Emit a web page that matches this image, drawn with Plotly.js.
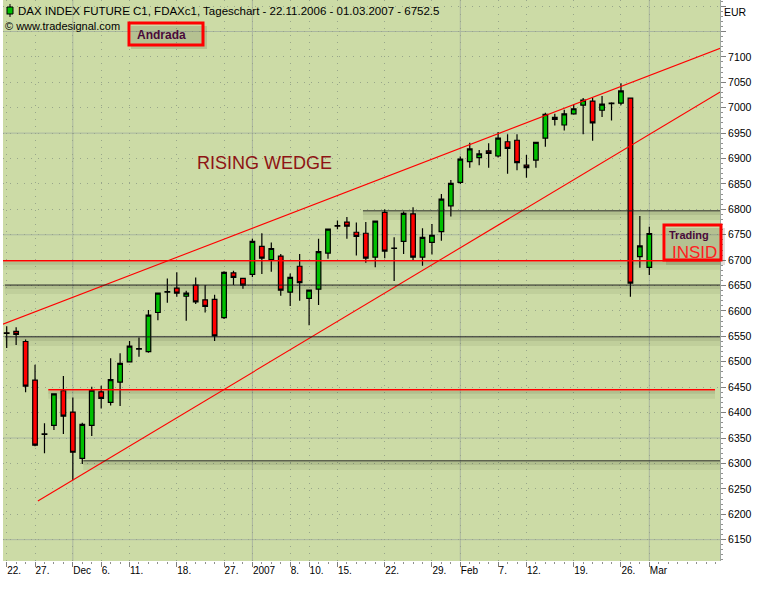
<!DOCTYPE html>
<html>
<head>
<meta charset="utf-8">
<script src="https://cdn.plot.ly/plotly-3.0.1.min.js"></script>
<style>html,body{margin:0;padding:0;background:#fff;}#chart{width:760px;height:598px;}</style>
</head>
<body>
<div id="chart"></div>
<script>
// ---------- DATA ----------
const dates = [
 '22.11.2006','23.11.2006','24.11.2006','27.11.2006','28.11.2006','29.11.2006','30.11.2006',
 '01.12.2006','04.12.2006','05.12.2006','06.12.2006','07.12.2006','08.12.2006','11.12.2006','12.12.2006',
 '13.12.2006','14.12.2006','15.12.2006','18.12.2006','19.12.2006','20.12.2006','21.12.2006','22.12.2006',
 '27.12.2006','28.12.2006','29.12.2006',
 '02.01.2007','03.01.2007','04.01.2007','05.01.2007','08.01.2007','09.01.2007','10.01.2007','11.01.2007',
 '12.01.2007','15.01.2007','16.01.2007','17.01.2007','18.01.2007','19.01.2007','22.01.2007','23.01.2007',
 '24.01.2007','25.01.2007','26.01.2007','29.01.2007','30.01.2007','31.01.2007',
 '01.02.2007','02.02.2007','05.02.2007','06.02.2007','07.02.2007','08.02.2007','09.02.2007','12.02.2007',
 '13.02.2007','14.02.2007','15.02.2007','16.02.2007','19.02.2007','20.02.2007','21.02.2007','22.02.2007',
 '23.02.2007','26.02.2007','27.02.2007','28.02.2007','01.03.2007'
];
const openP  = [6557,6560,6540,6464,6358,6375,6443,6401,6310,6375,6441,6420,6460,6500,6526,6520,6597,6637,6645,6629,
                6651,6622,6623,6587,6675,6664,6672,6727,6701,6708,6637,6688,6625,6643,6714,6768,6775,6755,6753,6706,
                6794,6723,6737,6791,6706,6735,6756,6807,6853,6894,6902,6915,6905,6933,6936,6887,6897,6940,6981,6966,
                6988,7005,7013,6995,7008,7009,7019,6707,6686];
const highP  = [6570,6568,6544,6494,6379,6438,6472,6430,6380,6451,6453,6507,6517,6541,6548,6602,6636,6664,6676,6640,
                6666,6651,6632,6678,6679,6665,6742,6753,6735,6712,6674,6712,6641,6742,6762,6778,6785,6774,6775,6778,
                6800,6745,6796,6804,6763,6771,6830,6858,6904,6931,6917,6930,6952,6948,6948,6907,6933,6990,6988,6996,
                7007,7019,7019,7023,7011,7048,7020,6787,6766];
const lowP   = [6527,6533,6440,6334,6320,6366,6358,6267,6299,6354,6408,6414,6413,6499,6510,6518,6582,6616,6628,6581,
                6614,6597,6541,6584,6651,6644,6667,6673,6677,6630,6610,6620,6572,6612,6703,6761,6742,6709,6695,6686,
                6704,6659,6712,6700,6689,6711,6738,6786,6850,6882,6887,6882,6902,6870,6877,6862,6882,6923,6965,6955,
                6986,6948,6935,6982,6975,7005,6628,6685,6671];
const closeP = [6556,6554,6452,6336,6357,6437,6393,6322,6377,6444,6428,6465,6497,6531,6525,6592,6635,6638,6635,6635,
                6618,6609,6551,6676,6666,6651,6737,6704,6723,6641,6666,6656,6641,6717,6761,6767,6767,6747,6704,6777,
                6718,6724,6792,6706,6745,6749,6820,6851,6899,6919,6909,6910,6940,6920,6892,6882,6932,6987,6977,6988,
                6998,7015,6970,7007,7009,7033,6655,6728,6752.5];

const tickDates = ['22.11.2006','27.11.2006','01.12.2006','06.12.2006','11.12.2006','18.12.2006','27.12.2006',
                   '02.01.2007','08.01.2007','10.01.2007','15.01.2007','22.01.2007','29.01.2007','01.02.2007',
                   '07.02.2007','12.02.2007','19.02.2007','26.02.2007','01.03.2007'];
const tickText  = ['22.','27.','Dec','6.','11.','18.','27.','2007','8.','10.','15.','22.','29.','Feb','7.','12.','19.','26.','Mar'];
const monthStarts = ['01.12.2006','02.01.2007','01.02.2007','01.03.2007'];

// horizontal support / resistance levels (price, first bar index, last bar index)
const redLevelPrice   = [6699, 6445];
const redLevelFrom    = [-1, 4.4];
const redLevelTo      = [76, 74.95];
const blackLevelPrice = [6651, 6549, 6305, 6797];
const blackLevelFrom  = [-0.2, -0.2, 8.1, 37.7];
const blackLevelTo    = [76, 76, 76, 76];

// wedge trend lines (bar index, price)
const upperTrendX = [-0.4, 75.5];
const upperTrendY = [6574, 7117];
const lowerTrendX = [3.3, 75.5];
const lowerTrendY = [6226, 7031];

const yTickVals = [6150,6200,6250,6300,6350,6400,6450,6500,6550,6600,6650,6700,6750,6800,6850,6900,6950,7000,7050,7100,7150,7200];
const yTickText = ['6150','6200','6250','6300','6350','6400','6450','6500','6550','6600','6650','6700','6750','6800','6850','6900','6950','7000','7050','7100','',''];
const solidGridPrices = [6150,6350,6550,6750,6950,7150];

// ---------- DRAW ----------
const idx = dates.map((d, i) => i);
const tickIdx = tickDates.map(d => dates.indexOf(d));
const monthIdx = monthStarts.map(d => dates.indexOf(d));

const PL = 3, PT = 0, PW = 717, PH = 561;
const fx = px => (px - PL) / PW;
const fy = py => 1 - (py - PT) / PH;

const FONT = 'Liberation Sans, Arial, sans-serif';

const traces = [
  {
    type: 'candlestick', x: idx, open: openP, high: highP, low: lowP, close: closeP,
    increasing: {line: {color: '#000000', width: 1.2}, fillcolor: '#00c000'},
    decreasing: {line: {color: '#000000', width: 1.2}, fillcolor: '#ff0000'},
    whiskerwidth: 0, hoverinfo: 'skip', showlegend: false
  },
  {type: 'scatter', mode: 'lines', x: upperTrendX, y: upperTrendY, line: {color: '#ff0000', width: 1.1}, hoverinfo: 'skip', showlegend: false},
  {type: 'scatter', mode: 'lines', x: lowerTrendX, y: lowerTrendY, line: {color: '#ff0000', width: 1.1}, hoverinfo: 'skip', showlegend: false}
];

const shapes = [];
// solid grid lines
solidGridPrices.forEach(p => shapes.push({type: 'line', xref: 'paper', yref: 'y', x0: 0, x1: 1, y0: p, y1: p,
  line: {color: '#aab6a0', width: 1}, layer: 'between'}));
monthIdx.forEach(i => shapes.push({type: 'line', xref: 'x', yref: 'paper', x0: i, x1: i, y0: 0, y1: 1,
  line: {color: '#aab6a0', width: 1}, layer: 'between'}));

function level(price, from, to, color, width) {
  shapes.push({type: 'rect', xref: 'x', yref: 'y', ysizemode: 'pixel', yanchor: price, y0: -1, y1: -4,
    x0: from, x1: to, fillcolor: 'rgba(40,50,20,0.16)', line: {width: 0}, layer: 'between'});
  shapes.push({type: 'rect', xref: 'x', yref: 'y', ysizemode: 'pixel', yanchor: price, y0: -4, y1: -9,
    x0: from, x1: to, fillcolor: 'rgba(40,50,20,0.07)', line: {width: 0}, layer: 'between'});
  shapes.push({type: 'line', xref: 'x', yref: 'y', x0: from, x1: to, y0: price, y1: price,
    line: {color: color, width: width}, layer: 'above'});
}
blackLevelPrice.forEach((p, k) => level(p, blackLevelFrom[k], blackLevelTo[k], '#1a1a1a', 1));
redLevelPrice.forEach((p, k) => level(p, redLevelFrom[k], redLevelTo[k], '#ff0000', 1.6));

function pxRect(x0, y0, x1, y1, opts) {
  shapes.push(Object.assign({type: 'rect', xref: 'paper', yref: 'paper', x0: fx(x0), x1: fx(x1), y0: fy(y1), y1: fy(y0), layer: 'above'}, opts));
}
// Andrada box
pxRect(131, 26, 207, 49, {fillcolor: 'rgba(60,60,40,0.16)', line: {width: 0}});
pxRect(129, 23, 203, 45, {fillcolor: 'rgba(0,0,0,0)', line: {color: '#ff0000', width: 3}});
// Trading INSIDE box
pxRect(666, 228, 725, 265, {fillcolor: 'rgba(60,60,40,0.16)', line: {width: 0}});
pxRect(664, 225, 721, 260, {fillcolor: 'rgba(0,0,0,0)', line: {color: '#ff0000', width: 3}});
// header candle icon
shapes.push({type: 'line', xref: 'paper', yref: 'paper', x0: fx(10), x1: fx(10), y0: fy(17), y1: fy(4), line: {color: '#000', width: 1}, layer: 'above'});
pxRect(7, 7, 13, 14, {fillcolor: '#00c000', line: {color: '#000', width: 1}});

const ann = [];
function txt(text, px, py, size, color, family) {
  ann.push({text: text, xref: 'paper', yref: 'paper', x: fx(px), y: fy(py), xanchor: 'left', yanchor: 'middle',
    showarrow: false, font: {family: family || FONT, size: size, color: color}});
}
txt('DAX INDEX FUTURE C1, FDAXc1, Tageschart - 22.11.2006 - 01.03.2007 - 6752.5', 16, 11, 11.5, '#000');
txt('© www.tradesignal.com', 3, 26, 11, '#000');
txt('<b>Andrada</b>', 135, 35, 12, '#4a0a3a');
txt('RISING WEDGE', 195, 163, 18, '#8e1414');
txt('<b>Trading</b>', 667, 235, 11, '#4a0a3a');
txt('INSID', 670, 252, 17, '#ff2020', 'Liberation Sans Narrow, Liberation Sans, sans-serif');
txt('EUR', 722, 12, 10.5, '#000');

const layout = {
  width: 760, height: 598,
  margin: {l: PL, r: 760 - PL - PW, t: PT, b: 598 - PT - PH, pad: 0},
  paper_bgcolor: '#ffffff', plot_bgcolor: '#ccdba6',
  showlegend: false,
  xaxis: {
    range: [-0.39, 75.48], zeroline: false, showline: false,
    tickmode: 'array', tickvals: tickIdx, ticktext: tickText, tickangle: 0,
    ticks: 'outside', ticklen: 5, tickcolor: '#808080', tickwidth: 1,
    ticklabelposition: 'outside right',
    tickfont: {family: FONT, size: 10, color: '#000'},
    showgrid: true, gridcolor: '#98a68a', griddash: '1px,6px', gridwidth: 1,
    minor: {tickmode: 'linear', tick0: 0, dtick: 1, ticks: 'outside', ticklen: 2, tickcolor: '#909090', showgrid: false},
    rangeslider: {visible: false}, fixedrange: true
  },
  yaxis: {
    side: 'right', range: [6108, 7212], zeroline: false,
    showline: true, linecolor: '#a0a8a0', linewidth: 1, mirror: false,
    tickmode: 'array', tickvals: yTickVals, ticktext: yTickText,
    ticks: 'outside', ticklen: 5, tickcolor: '#808080',
    tickfont: {family: FONT, size: 10.5, color: '#000'},
    showgrid: true, gridcolor: '#98a68a', griddash: '1px,6px', gridwidth: 1,
    minor: {tickmode: 'linear', tick0: 6100, dtick: 10, ticks: 'outside', ticklen: 2, tickcolor: '#909090', showgrid: false},
    fixedrange: true
  },
  shapes: shapes,
  annotations: ann
};

Plotly.newPlot('chart', traces, layout, {staticPlot: true, displayModeBar: false});
</script>
</body>
</html>
